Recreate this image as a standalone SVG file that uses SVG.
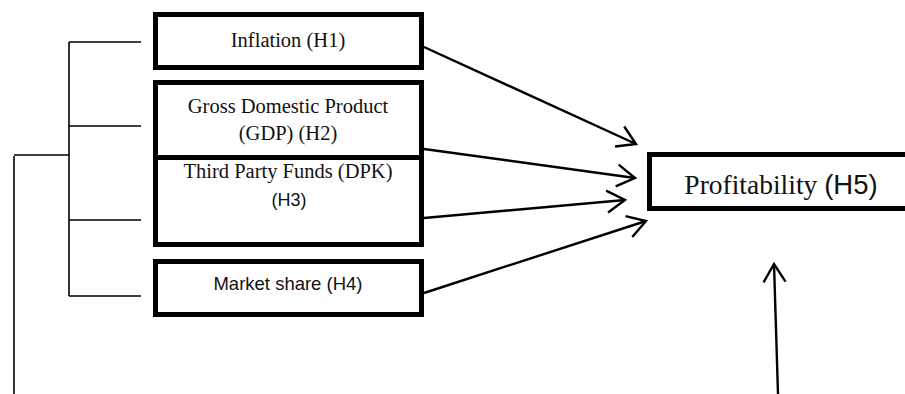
<svg xmlns="http://www.w3.org/2000/svg" width="905" height="394" viewBox="0 0 905 394">
<style>
.box{fill:#fff;stroke:#000;stroke-width:5}
.serif{font-family:"Liberation Serif","Times New Roman",serif;fill:#111}
.sans{font-family:"Liberation Sans",Arial,sans-serif;fill:#111}
.ln{stroke:#000;stroke-width:1.6;fill:none}
.arr{stroke:#000;stroke-width:2.4;fill:none;marker-end:url(#ah)}
</style>
<defs>
<marker id="ah" markerUnits="userSpaceOnUse" markerWidth="30" markerHeight="30" refX="20" refY="12" orient="auto" overflow="visible">
<path d="M2,1 L20,12 L2,23" fill="none" stroke="#000" stroke-width="2.4"/>
</marker>
</defs>
<rect width="905" height="394" fill="#fff"/>
<g id="connectors">
<path class="ln" d="M69,42 V296 M69,42 H141 M69,126 H141 M69,220 H141 M69,296 H141 M14,155 H69 M14,156 V394"/>
<line class="arr" x1="424" y1="47" x2="636" y2="144"/>
<line class="arr" x1="424" y1="149" x2="635" y2="178"/>
<line class="arr" x1="424" y1="218" x2="625" y2="200"/>
<line class="arr" x1="424" y1="293" x2="646" y2="221"/>
<line class="arr" x1="778" y1="394" x2="774" y2="264"/>
</g>
<g id="inflation">
<rect class="box" x="155.5" y="14.5" width="266" height="53"/>
<text class="serif" x="288" y="47" font-size="20.5" text-anchor="middle">Inflation (H1)</text>
</g>
<g id="gdp">
<rect class="box" x="155.5" y="82.5" width="266" height="75"/>
<text class="serif" x="288" y="113" font-size="20.5" text-anchor="middle">Gross Domestic Product</text>
<text class="serif" x="288" y="140" font-size="20.5" text-anchor="middle">(GDP) (H2)</text>
</g>
<g id="dpk">
<rect class="box" x="155.5" y="157.5" width="266" height="87"/>
<text class="serif" x="288" y="178" font-size="20.5" text-anchor="middle">Third Party Funds (DPK)</text>
<text class="sans" x="289" y="206" font-size="18" text-anchor="middle">(H3)</text>
</g>
<g id="market">
<rect class="box" x="155.5" y="261.5" width="266" height="53"/>
<text class="sans" x="288" y="290" font-size="18.5" text-anchor="middle">Market share (H4)</text>
</g>
<g id="profitability">
<rect class="box" x="649.5" y="154.5" width="300" height="54"/>
<text x="781" y="194" font-size="27.5" text-anchor="middle"><tspan class="serif">Profitability </tspan><tspan class="sans">(H5)</tspan></text>
</g>
</svg>
